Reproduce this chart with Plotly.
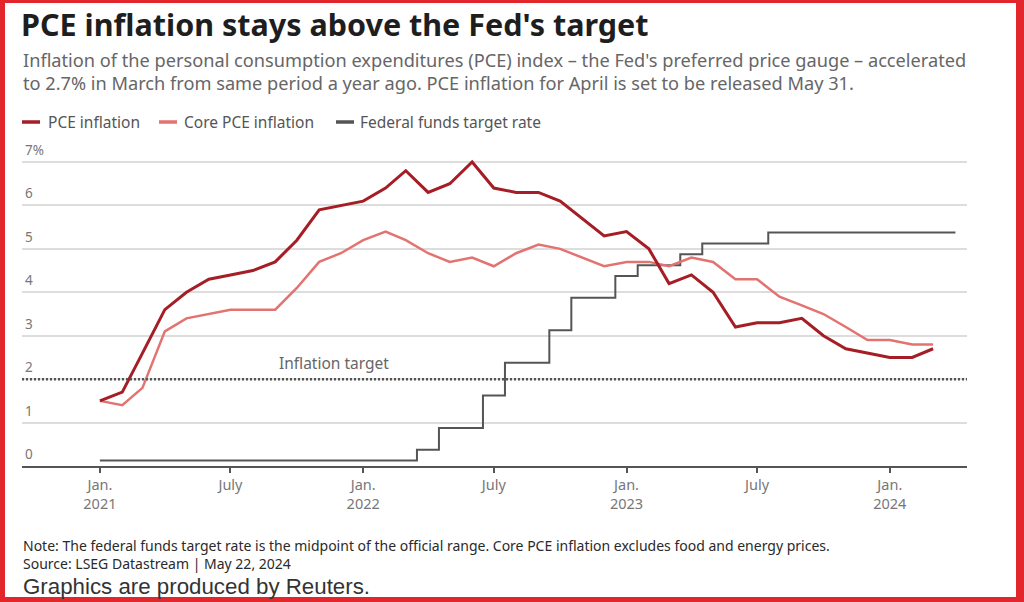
import plotly.graph_objects as go
import pandas as pd

# ---------------- data ----------------
months = pd.date_range("2021-01-01", "2024-03-01", freq="MS").strftime("%Y-%m-%d").tolist()
pce = [1.5, 1.7, 2.6, 3.6, 4.0, 4.3, 4.4, 4.5, 4.7, 5.2, 5.9, 6.0,
       6.1, 6.4, 6.8, 6.3, 6.5, 7.0, 6.4, 6.3, 6.3, 6.1, 5.7, 5.3,
       5.4, 5.0, 4.2, 4.4, 4.0, 3.2, 3.3, 3.3, 3.4, 3.0, 2.7, 2.6,
       2.5, 2.5, 2.7]
core_pce = [1.5, 1.4, 1.8, 3.1, 3.4, 3.5, 3.6, 3.6, 3.6, 4.1, 4.7, 4.9,
            5.2, 5.4, 5.2, 4.9, 4.7, 4.8, 4.6, 4.9, 5.1, 5.0, 4.8, 4.6,
            4.7, 4.7, 4.6, 4.8, 4.7, 4.3, 4.3, 3.9, 3.7, 3.5, 3.2, 2.9,
            2.9, 2.8, 2.8]
fed_months = pd.date_range("2021-01-01", "2024-04-01", freq="MS").strftime("%Y-%m-%d").tolist()
fed_rate = [0.125] * 15 + [0.375, 0.875, 0.875, 1.625, 2.375, 2.375, 3.125, 3.875, 3.875,
                           4.375, 4.625, 4.625, 4.875, 5.125, 5.125, 5.125] + [5.375] * 9

x_tickvals = ["2021-01-01", "2021-07-01", "2022-01-01", "2022-07-01",
              "2023-01-01", "2023-07-01", "2024-01-01"]
x_ticktext = ["Jan.<br>2021", "July", "Jan.<br>2022", "July",
              "Jan.<br>2023", "July", "Jan.<br>2024"]
y_tickvals = [0, 1, 2, 3, 4, 5, 6, 7]
y_ticktext = ["0", "1", "2", "3", "4", "5", "6", "7%"]
target = 2

series_names = ["PCE inflation", "Core PCE inflation", "Federal funds target rate"]
colors = ["#a51d25", "#e27370", "#555555"]

# ---------------- layout geometry ----------------
W, H = 1024, 602
ML, MR, MT, MB = 22, 57, 149, 136
PW, PH = W - ML - MR, H - MT - MB


def px(x, y):
    """pixel -> paper coordinates"""
    return (x - ML) / PW, (H - MB - y) / PH


fig = go.Figure()
fig.add_trace(go.Scatter(x=fed_months, y=fed_rate, mode="lines", line_shape="hvh",
                         line=dict(color=colors[2], width=2), name=series_names[2],
                         showlegend=False))
fig.add_trace(go.Scatter(x=months, y=core_pce, mode="lines",
                         line=dict(color=colors[1], width=2.5), name=series_names[1],
                         showlegend=False))
fig.add_trace(go.Scatter(x=months, y=pce, mode="lines",
                         line=dict(color=colors[0], width=3), name=series_names[0],
                         showlegend=False))

shapes = []
annotations = []
# inflation target dotted line
shapes.append(dict(type="line", xref="paper", yref="y", x0=0, x1=1, y0=target, y1=target,
                   line=dict(color="#555555", width=2.5, dash="2px,2px"), layer="above"))

# y tick labels (sit above their gridlines, left aligned)
for v, t in zip(y_tickvals, y_ticktext):
    annotations.append(dict(xref="paper", yref="y", x=px(23, 0)[0], y=v, text=t,
                            showarrow=False, xanchor="left", yanchor="bottom", yshift=1,
                            font=dict(family="Noto Sans", size=13.5, color="#777777")))

# custom legend swatches
legend_items = [(22, 40, 46), (159, 177, 182), (336, 354, 358)]
for (x0, x1, tx), name, col in zip(legend_items, series_names, colors):
    a0, b0 = px(x0, 122)
    a1, _ = px(x1, 122)
    shapes.append(dict(type="line", xref="paper", yref="paper", x0=a0, x1=a1, y0=b0, y1=b0,
                       line=dict(color=col, width=3.5)))
    ax, ay = px(tx, 122)
    annotations.append(dict(xref="paper", yref="paper", x=ax, y=ay, text=name,
                            showarrow=False, xanchor="left", yanchor="middle",
                            font=dict(family="Noto Sans", size=15.5, color="#555555")))

# red frame
RED = "#e2262c"
for (x0, y0, x1, y1) in [(0, 0, 5, H), (1016, 0, W, H), (0, 0, W, 3), (0, 597, W, H)]:
    a0, b0 = px(x0, y0)
    a1, b1 = px(x1, y1)
    shapes.append(dict(type="rect", xref="paper", yref="paper", x0=a0, x1=a1, y0=b1, y1=b0,
                       fillcolor=RED, line=dict(width=0)))


def text(x, y, s, size, color, family="Noto Sans", anchor="left", yanchor="middle"):
    ax, ay = px(x, y)
    annotations.append(dict(xref="paper", yref="paper", x=ax, y=ay, text=s, showarrow=False,
                            xanchor=anchor, yanchor=yanchor,
                            font=dict(family=family, size=size, color=color)))


text(19, 24, "<b>PCE inflation stays above the Fed's target</b>", 30.5, "#1e1e1e")
text(21, 60, "Inflation of the personal consumption expenditures (PCE) index – the Fed's preferred price gauge – accelerated",
     18.2, "#666666")
text(21, 83, "to 2.7% in March from same period a year ago. PCE inflation for April is set to be released May 31.",
     18.2, "#666666")
text(21, 545, "Note: The federal funds target rate is the midpoint of the official range. Core PCE inflation excludes food and energy prices.",
     14, "#2a2a2a")
text(21, 563, "Source: LSEG Datastream | May 22, 2024", 14, "#2a2a2a")
text(21, 586, "Graphics are produced by Reuters.", 22.3, "#333333", family="Liberation Sans")

annotations.append(dict(xref="x", yref="y", x="2021-11-22", y=target + 0.08,
                        text="Inflation target", showarrow=False,
                        xanchor="center", yanchor="bottom",
                        font=dict(family="Noto Sans", size=15.5, color="#666666")))

fig.update_layout(
    width=W, height=H,
    margin=dict(l=ML, r=MR, t=MT, b=MB, pad=0),
    paper_bgcolor="white", plot_bgcolor="white",
    shapes=shapes, annotations=annotations,
    showlegend=False,
    xaxis=dict(range=["2020-09-15", "2024-04-17"], tickvals=x_tickvals, ticktext=x_ticktext,
               showgrid=False, showline=True, linecolor="#555555", linewidth=1.5,
               ticks="outside", ticklen=5, tickcolor="#555555", tickwidth=1.5,
               tickfont=dict(family="Noto Sans", size=14.5, color="#777777"),
               zeroline=False, fixedrange=True),
    yaxis=dict(range=[0, 7.3], tickvals=y_tickvals, showticklabels=False,
               showgrid=True, gridcolor="#dddddd",
               gridwidth=1.5, zeroline=False, showline=False, ticks="",
               fixedrange=True),
)

fig.write_html("out.html", config={"displayModeBar": False},
               post_script="document.body.style.margin='0';document.body.style.overflow='hidden';")
